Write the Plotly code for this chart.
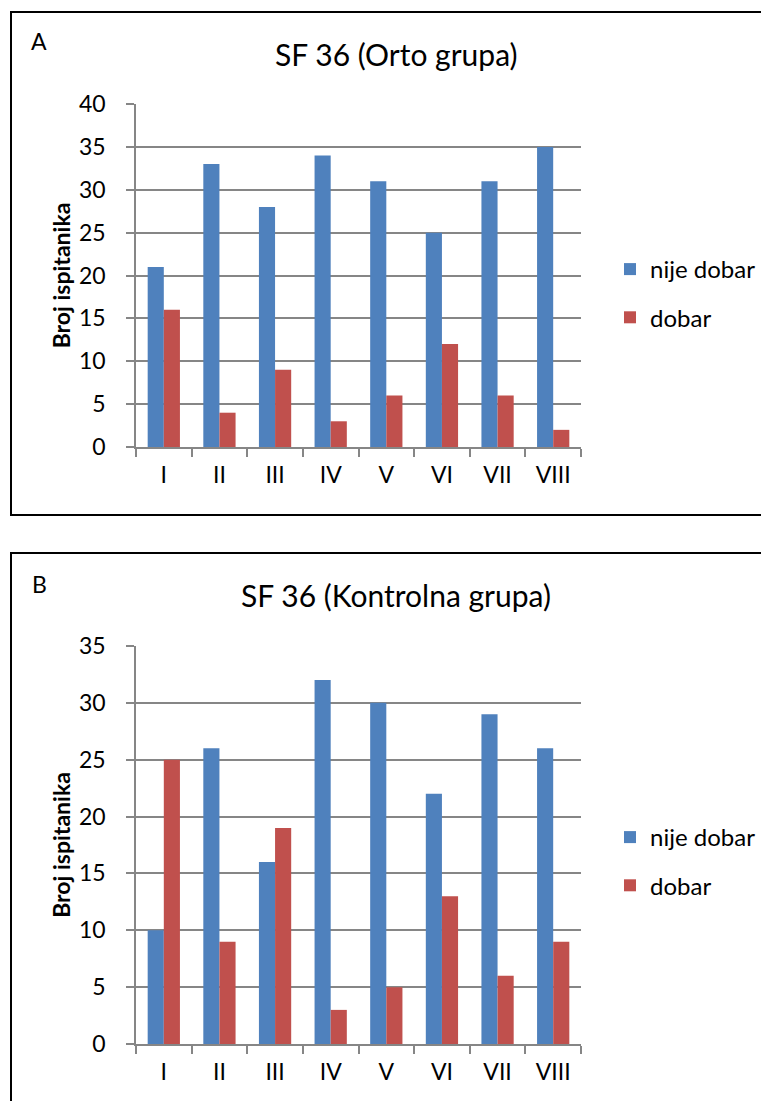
import plotly.graph_objects as go

W, H = 769, 1101
OFF = 8  # page body margin

categories = ["I", "II", "III", "IV", "V", "VI", "VII", "VIII"]
series_names = ["nije dobar", "dobar"]

orto_nije_dobar = [21, 33, 28, 34, 31, 25, 31, 35]
orto_dobar = [16, 4, 9, 3, 6, 12, 6, 2]

kontrolna_nije_dobar = [10, 26, 16, 32, 30, 22, 29, 26]
kontrolna_dobar = [25, 9, 19, 3, 5, 13, 6, 9]

titles = ["SF 36 (Orto grupa)", "SF 36 (Kontrolna grupa)"]
panel_labels = ["A", "B"]
y_title = "Broj ispitanika"

BLUE = "#4F81BD"
RED = "#C0504D"
GRID = "#868686"
FONT = "Lato"


def px_x(p):
    return (p - OFF) / W


def px_y(p):
    return 1 - (p - OFF) / H


fig = go.Figure()

panels = [
    dict(nd=orto_nije_dobar, d=orto_dobar, xa="x", ya="y", legend="legend",
         top=104, bottom=447, ymax=40, box=(12, 515), title_y=54, lab_y=41, leg_y=247),
    dict(nd=kontrolna_nije_dobar, d=kontrolna_dobar, xa="x2", ya="y2", legend="legend2",
         top=646, bottom=1044, ymax=35, box=(553, 1130), title_y=595, lab_y=584, leg_y=815),
]

for i, p in enumerate(panels):
    fig.add_trace(go.Bar(x=categories, y=p["nd"], name=series_names[0], marker_color=BLUE,
                         xaxis=p["xa"], yaxis=p["ya"], legend=p["legend"],
                         legendgroup=f"g{i}a", marker_line_width=0))
    fig.add_trace(go.Bar(x=categories, y=p["d"], name=series_names[1], marker_color=RED,
                         xaxis=p["xa"], yaxis=p["ya"], legend=p["legend"],
                         legendgroup=f"g{i}b", marker_line_width=0))

x_dom = [px_x(136), px_x(581)]

common_x = dict(
    domain=x_dom, type="category", showline=True, linecolor=GRID, linewidth=1.5,
    ticks="outside", tickson="boundaries", ticklen=8, tickcolor=GRID, tickwidth=1.5,
    showgrid=False, tickfont=dict(family=FONT, size=23, color="black"),
    ticklabelstandoff=7, zeroline=False, fixedrange=True, automargin=False,
)

layout = dict(
    width=W, height=H, margin=dict(l=0, r=0, t=0, b=0, autoexpand=False),
    paper_bgcolor="white", plot_bgcolor="white",
    barmode="group", bargap=0.42, bargroupgap=0,
    font=dict(family=FONT, color="black"),
    showlegend=True,
)

shapes = []
annotations = []
for i, p in enumerate(panels):
    sfx = "" if i == 0 else "2"
    layout["xaxis" + sfx] = dict(common_x, anchor="y" + sfx)
    layout["yaxis" + sfx] = dict(
        domain=[px_y(p["bottom"]), px_y(p["top"])], anchor="x" + sfx,
        range=[0, p["ymax"]], dtick=5, tick0=0,
        showline=True, linecolor=GRID, linewidth=1.5,
        showgrid=True, gridcolor=GRID, gridwidth=1.5,
        ticks="outside", ticklen=8, tickcolor=GRID, tickwidth=1.5,
        tickfont=dict(family=FONT, size=23, color="black"),
        ticklabelstandoff=16, zeroline=False, fixedrange=True, automargin=False,
        title=dict(text=f"<b>{y_title}</b>", font=dict(family=FONT, size=23, color="black"),
                   standoff=2),
    )
    layout["legend" if i == 0 else "legend2"] = dict(
        x=px_x(610), y=px_y(p["leg_y"]), xanchor="left", yanchor="top",
        font=dict(family=FONT, size=24, color="black"),
        traceorder="grouped", tracegroupgap=14, bgcolor="rgba(0,0,0,0)",
        itemclick=False, itemdoubleclick=False,
    )
    y0, y1 = p["box"]
    shapes.append(dict(type="rect", xref="paper", yref="paper",
                       x0=px_x(11), x1=px_x(820), y0=px_y(y1), y1=px_y(y0),
                       line=dict(color="black", width=2), fillcolor="rgba(0,0,0,0)"))
    annotations.append(dict(text=titles[i], xref="paper", yref="paper",
                            x=px_x(396), y=px_y(p["title_y"]), xanchor="center", yanchor="middle",
                            showarrow=False, font=dict(family=FONT, size=30, color="black")))
    annotations.append(dict(text=panel_labels[i], xref="paper", yref="paper",
                            x=px_x(39), y=px_y(p["lab_y"]), xanchor="center", yanchor="middle",
                            showarrow=False, font=dict(family=FONT, size=23, color="black")))

layout["shapes"] = shapes
layout["annotations"] = annotations
fig.update_layout(**layout)

fig.write_html("out.html")
